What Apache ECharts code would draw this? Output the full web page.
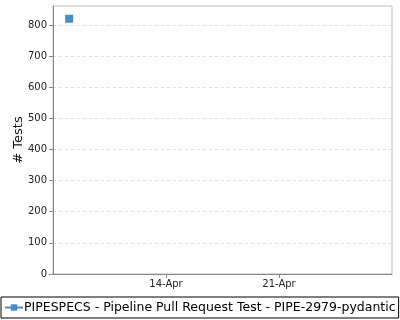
<!DOCTYPE html>
<html>
<head>
<meta charset="utf-8">
<script src="https://cdn.jsdelivr.net/npm/echarts@6/dist/echarts.min.js"></script>
<style>html,body{margin:0;padding:0;background:#fff}#c{width:400px;height:320px}</style>
</head>
<body>
<div id="c"></div>
<script>
var seriesName = 'PIPESPECS - Pipeline Pull Request Test - PIPE-2979-pydantic';
var dates = ['2024-04-08'];
var tests = [820];
var monthLabel = 'Apr';
var xMinDay = 7, xMaxDay = 28, xStepDays = 7;
var yMax = 861, yStep = 100;

var data = dates.map(function (d, i) {
  return [parseInt(d.split('-')[2], 10), tests[i]];
});

var chart = echarts.init(document.getElementById('c'), null, {renderer: 'canvas'});
chart.setOption({
  animation: false,
  textStyle: {fontFamily: 'DejaVu Sans'},
  grid: {left: 53, right: 8, top: 6, bottom: 46, show: true, borderColor: '#bbb', borderWidth: 1,
    containLabel: false, outerBoundsMode: 'none'},
  xAxis: {
    type: 'value', min: xMinDay, max: xMaxDay, interval: xStepDays,
    axisLine: {show: true, lineStyle: {color: '#888'}},
    axisTick: {show: true, length: 4, lineStyle: {color: '#888'}},
    axisLabel: {showMinLabel: false, showMaxLabel: false, color: '#222', fontSize: 10, margin: 5,
      formatter: function (v) { return v + '-' + monthLabel; }},
    splitLine: {show: false}
  },
  yAxis: {
    type: 'value', min: 0, max: yMax, interval: yStep,
    name: '# Tests', nameLocation: 'middle', nameGap: 28, nameMoveOverlap: false,
    nameTextStyle: {fontSize: 13, color: '#111'},
    axisLine: {show: true, lineStyle: {color: '#888'}},
    axisTick: {show: true, length: 4, lineStyle: {color: '#888'}},
    axisLabel: {showMaxLabel: false, color: '#222', fontSize: 10, margin: 6},
    splitLine: {show: true, lineStyle: {color: '#ddd', type: [3, 3]}}
  },
  legend: {
    bottom: 2, left: 1, orient: 'horizontal',
    borderColor: '#000', borderWidth: 1, borderRadius: 0,
    padding: [4, 3, 4, 3], itemGap: 0, itemWidth: 18, itemHeight: 8,
    textStyle: {fontSize: 12.5, color: '#000', padding: [0, 0, 0, -4]},
    data: [seriesName]
  },
  series: [{
    name: seriesName, type: 'line', data: data,
    symbol: 'rect', symbolSize: 8,
    itemStyle: {color: '#4a8ac6'},
    lineStyle: {color: '#4a8ac6', width: 3}
  }]
});
</script>
</body>
</html>
